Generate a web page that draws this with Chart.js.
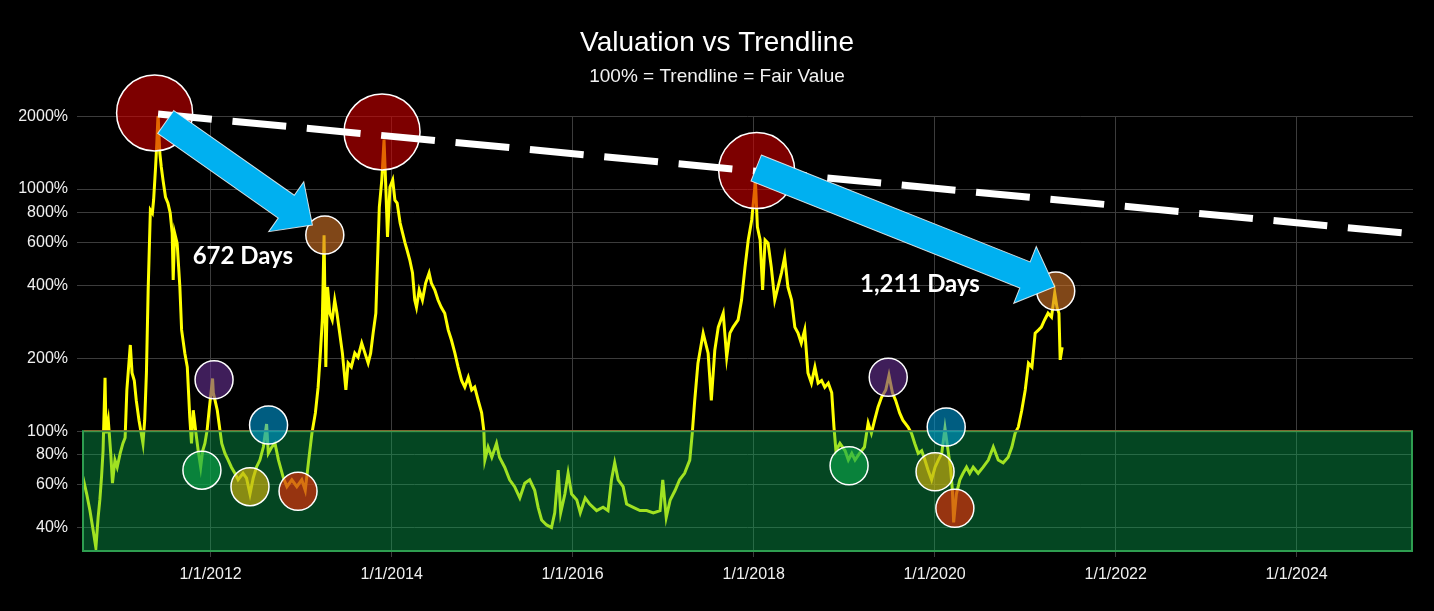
<!DOCTYPE html>
<html>
<head>
<meta charset="utf-8">
<script src="https://cdn.jsdelivr.net/npm/chart.js@4.4.1/dist/chart.umd.min.js"></script>
<style>
  html, body { margin: 0; padding: 0; background: #000; }
</style>
</head>
<body>
<canvas id="valuation-chart" width="1434" height="611"></canvas>
<script>
// valuation vs trendline (percent of fair value)
const valuationDates = [
  '2010-08-03','2010-08-19','2010-09-01','2010-09-14','2010-09-25','2010-10-04','2010-10-11','2010-10-18','2010-10-24','2010-11-01',
  '2010-11-05','2010-11-14','2010-11-24','2010-12-01','2010-12-11','2010-12-20','2011-01-01','2011-01-12','2011-01-21','2011-01-28',
  '2011-02-11','2011-02-18','2011-02-27','2011-03-07','2011-03-18','2011-03-27','2011-04-03','2011-04-10','2011-04-17','2011-04-24',
  '2011-05-03','2011-05-11','2011-05-16','2011-05-24','2011-05-29','2011-06-03','2011-06-10','2011-06-16','2011-06-23','2011-07-03',
  '2011-07-13','2011-07-22','2011-07-30','2011-08-03','2011-08-09','2011-08-19','2011-08-30','2011-09-06','2011-09-19','2011-09-29',
  '2011-10-09','2011-10-16','2011-10-23','2011-11-03','2011-11-12','2011-11-22','2011-11-30','2011-12-09','2011-12-18','2011-12-26',
  '2012-01-09','2012-01-12','2012-01-19','2012-01-28','2012-02-06','2012-02-15','2012-02-28','2012-03-12','2012-03-25','2012-04-08',
  '2012-04-21','2012-05-11','2012-05-25','2012-06-08','2012-06-21','2012-07-04','2012-07-18','2012-08-01','2012-08-14','2012-08-21',
  '2012-09-04','2012-09-17','2012-10-01','2012-10-21','2012-11-04','2012-11-24','2012-12-14','2013-01-03','2013-01-17','2013-01-31',
  '2013-02-13','2013-02-27','2013-03-10','2013-03-19','2013-03-27','2013-04-03','2013-04-10','2013-04-17','2013-04-26','2013-05-06',
  '2013-05-16','2013-05-25','2013-06-05','2013-06-16','2013-06-30','2013-07-09','2013-07-22','2013-08-05','2013-08-18','2013-09-02',
  '2013-09-15','2013-09-28','2013-10-08','2013-10-18','2013-10-29','2013-11-04','2013-11-12','2013-11-22','2013-12-01','2013-12-09',
  '2013-12-15','2013-12-25','2014-01-05','2014-01-14','2014-01-23','2014-02-04','2014-02-14','2014-02-24','2014-03-04','2014-03-15',
  '2014-03-26','2014-04-04','2014-04-11','2014-04-22','2014-05-05','2014-05-18','2014-06-01','2014-06-10','2014-06-24','2014-07-07',
  '2014-07-20','2014-08-03','2014-08-17','2014-08-30','2014-09-13','2014-09-26','2014-10-10','2014-10-23','2014-11-06','2014-11-20',
  '2014-12-02','2014-12-16','2014-12-30','2015-01-08','2015-01-12','2015-01-25','2015-02-09','2015-02-28','2015-03-12','2015-04-02',
  '2015-04-22','2015-05-12','2015-06-02','2015-06-22','2015-07-12','2015-08-01','2015-08-15','2015-08-29','2015-09-18','2015-10-08',
  '2015-10-21','2015-11-04','2015-11-14','2015-12-01','2015-12-14','2015-12-28','2016-01-18','2016-02-01','2016-02-21','2016-03-10',
  '2016-04-07','2016-05-03','2016-05-23','2016-06-06','2016-06-19','2016-07-03','2016-07-23','2016-08-06','2016-09-02','2016-09-29',
  '2016-10-26','2016-11-22','2016-12-19','2016-12-30','2017-01-13','2017-01-29','2017-02-18','2017-03-08','2017-03-28','2017-04-18',
  '2017-04-28','2017-05-08','2017-05-21','2017-06-11','2017-07-01','2017-07-14','2017-07-28','2017-08-11','2017-08-31','2017-09-14',
  '2017-09-27','2017-10-10','2017-10-30','2017-11-13','2017-11-27','2017-12-10','2017-12-24','2018-01-08','2018-01-16','2018-01-27',
  '2018-02-06','2018-02-16','2018-02-28','2018-03-13','2018-03-27','2018-04-09','2018-04-23','2018-05-06','2018-05-19','2018-06-03',
  '2018-06-16','2018-06-29','2018-07-12','2018-07-26','2018-08-08','2018-08-22','2018-09-05','2018-09-18','2018-10-02','2018-10-15',
  '2018-10-29','2018-11-12','2018-11-21','2018-11-29','2018-12-15','2019-01-05','2019-01-18','2019-02-01','2019-02-14','2019-03-04',
  '2019-03-24','2019-04-08','2019-04-21','2019-05-04','2019-05-18','2019-06-01','2019-06-18','2019-07-01','2019-07-15','2019-07-28',
  '2019-08-13','2019-08-26','2019-09-16','2019-09-30','2019-10-13','2019-10-27','2019-11-10','2019-11-23','2019-12-06','2019-12-20',
  '2020-01-03','2020-01-16','2020-01-30','2020-02-12','2020-02-26','2020-03-05','2020-03-13','2020-03-18','2020-03-29','2020-04-12',
  '2020-04-25','2020-05-09','2020-05-22','2020-06-05','2020-06-25','2020-07-15','2020-08-05','2020-08-25','2020-09-14','2020-10-04',
  '2020-10-24','2020-11-08','2020-11-21','2020-12-04','2020-12-18','2021-01-01','2021-01-14','2021-01-28','2021-02-10','2021-02-24',
  '2021-03-07','2021-03-20','2021-04-03','2021-04-17','2021-04-30','2021-05-09','2021-05-17','2021-05-22','2021-05-30'
];
const valuationPct = [
  65, 55, 47, 39, 33, 44, 52, 65, 83, 166,
  98, 111, 81, 61, 76, 71, 81, 89, 94, 148,
  227, 174, 162, 134, 111, 98, 89, 111, 174, 383,
  819, 796, 901, 1233, 1549, 2050, 1409, 1233, 1089, 927,
  875, 796, 658, 421, 658, 598, 394, 262, 210, 184,
  114, 89, 122, 98, 83, 71, 83, 89, 101, 122,
  165, 144, 134, 122, 104, 89, 81, 76, 71, 67,
  63, 67, 64, 55, 64, 71, 76, 86, 107, 81,
  86, 89, 76, 64, 59, 63, 59, 63, 57, 76,
  98, 119, 152, 210, 288, 645, 184, 394, 307, 288,
  348, 307, 254, 210, 148, 191, 184, 210, 202, 231,
  210, 191, 210, 254, 307, 476, 843, 1089, 1600, 963,
  634, 1019, 1089, 899, 875, 724, 658, 598, 560, 509,
  450, 348, 325, 383, 348, 409, 450, 409, 383, 348,
  325, 307, 262, 238, 210, 184, 162, 152, 167, 148,
  152, 134, 119, 100, 76, 86, 78, 89, 78, 71,
  63, 59, 53, 61, 63, 57, 48.5, 43, 41, 40,
  46, 69, 46, 55, 67, 55, 52, 46, 53, 50,
  47, 48.5, 47, 63, 74, 63, 59, 50, 48.5, 47,
  47, 46, 47, 63, 44, 52, 57, 63, 67, 76,
  98, 134, 191, 254, 210, 134, 216, 269, 307, 202,
  254, 269, 288, 348, 476, 616, 745, 1080, 697, 616,
  383, 616, 598, 476, 348, 394, 450, 524, 394, 348,
  269, 254, 231, 262, 174, 158, 184, 158, 162, 152,
  158, 144, 104, 83, 89, 83, 76, 81, 76, 81,
  86, 108, 98, 111, 126, 138, 148, 170, 144, 134,
  119, 111, 104, 98, 89, 81, 83, 76, 69, 63,
  71, 76, 81, 103, 81, 71, 57, 42, 55, 63,
  67, 71, 67, 71, 67, 71, 76, 86, 76, 74,
  78, 86, 98, 104, 122, 148, 191, 184, 254, 262,
  269, 288, 307, 296, 372, 325, 307, 197, 222
];

// fair value trendline (log-linear decay)
const trendDates = ['2011-06-03', '2025-04-15'];
const trendPct = [2040, 653];
const fairValue = 100;

// highlighted circles
const topDates = ['2011-05-20', '2013-11-23', '2018-01-13'];
const topPct = [2061, 1720, 1192];
const retestDates = ['2013-04-06', '2021-05-04'];
const retestPct = [646, 379];
const purpleDates = ['2012-01-15', '2019-06-28'];
const purplePct = [163, 167];
const tealDates = ['2012-08-22', '2020-02-17'];
const tealPct = [106, 104];
const greenDates = ['2011-11-27', '2019-01-21'];
const greenPct = [69, 72];
const oliveDates = ['2012-06-08', '2020-01-03'];
const olivePct = [59, 68];
const lowDates = ['2012-12-19', '2020-03-23'];
const lowPct = [56.5, 48];

// arrows and "days" labels
const arrowStartDates = ['2011-07-04', '2018-01-11'];
const arrowStartPct = [1892, 1221];
const arrowEndDates = ['2013-02-15', '2021-04-30'];
const arrowEndPct = [710, 395];
const dayLabels = ['672 Days', '1,211 Days'];
const dayLabelDates = ['2012-05-10', '2019-11-03'];
const dayLabelPct = [529, 405];

// axes
const xMin = '2010-07-31';
const xMax = '2025-04-15';
const xTickYears = [2012, 2014, 2016, 2018, 2020, 2022, 2024];
const yMin = 31.7;
const yMax = 2003;
const yTicks = [40, 60, 80, 100, 200, 400, 600, 800, 1000, 2000];

const day = s => Date.parse(s);
const points = (dates, vals) => dates.map((d, i) => ({ x: day(d), y: vals[i] }));

function circles(dates, vals, fill, radius) {
    return {
        type: 'bubble',
        data: points(dates, vals),
        backgroundColor: fill,
        borderColor: '#ffffff',
        borderWidth: 1.5,
        radius: radius,
        clip: false,
        order: 2
    };
}

function drawArrow(ctx, x0, y0, x1, y1) {
    const shaft = 28, headW = 61, headL = 32;
    const len = Math.hypot(x1 - x0, y1 - y0);
    ctx.save();
    ctx.translate(x0, y0);
    ctx.rotate(Math.atan2(y1 - y0, x1 - x0));
    ctx.beginPath();
    ctx.moveTo(0, -shaft / 2);
    ctx.lineTo(len - headL, -shaft / 2);
    ctx.lineTo(len - headL, -headW / 2);
    ctx.lineTo(len, 0);
    ctx.lineTo(len - headL, headW / 2);
    ctx.lineTo(len - headL, shaft / 2);
    ctx.lineTo(0, shaft / 2);
    ctx.closePath();
    ctx.fillStyle = '#00b0f0';
    ctx.fill();
    ctx.lineWidth = 1;
    ctx.strokeStyle = 'rgba(255,255,255,0.8)';
    ctx.stroke();
    ctx.restore();
}

const overlays = {
    id: 'overlays',
    // green "below fair value" zone goes over the valuation line only
    afterDatasetDraw(chart, args) {
        if (args.index !== 0) return;
        const { ctx, chartArea: a } = chart;
        const top = chart.scales.y.getPixelForValue(fairValue);
        ctx.save();
        ctx.fillStyle = 'rgba(10,180,87,0.39)';
        ctx.fillRect(a.left, top, a.right - a.left, a.bottom - top);
        ctx.lineWidth = 2;
        ctx.strokeStyle = '#2e9e50';
        ctx.strokeRect(a.left + 1, top, a.right - a.left - 2, a.bottom - top - 1);
        ctx.beginPath();
        ctx.moveTo(a.left + 2, top - 0.5);
        ctx.lineTo(a.right - 2, top - 0.5);
        ctx.strokeStyle = 'rgba(170,90,40,0.8)';
        ctx.lineWidth = 1;
        ctx.stroke();
        ctx.restore();
    },
    afterDatasetsDraw(chart) {
        const { ctx, scales: { x, y } } = chart;
        arrowStartDates.forEach((d, i) => {
            drawArrow(ctx,
                x.getPixelForValue(day(d)), y.getPixelForValue(arrowStartPct[i]),
                x.getPixelForValue(day(arrowEndDates[i])), y.getPixelForValue(arrowEndPct[i]));
        });
        ctx.save();
        ctx.font = 'bold 24px Lato, "Open Sans", sans-serif';
        ctx.fillStyle = '#ffffff';
        ctx.textAlign = 'center';
        ctx.textBaseline = 'middle';
        dayLabels.forEach((t, i) => {
            ctx.fillText(t, x.getPixelForValue(day(dayLabelDates[i])), y.getPixelForValue(dayLabelPct[i]));
        });
        ctx.restore();
    }
};

Chart.defaults.font.family = "'Liberation Sans', Arial, sans-serif";
Chart.defaults.color = '#f0f0f0';

new Chart('valuation-chart', {
    type: 'line',
    data: {
        datasets: [
            {
                label: 'Valuation',
                data: points(valuationDates, valuationPct),
                borderColor: '#ffff00',
                borderWidth: 3,
                pointRadius: 0,
                tension: 0,
                order: 3
            },
            {
                label: 'Trendline',
                data: points(trendDates, trendPct),
                borderColor: '#ffffff',
                borderWidth: 7,
                borderDash: [54, 20.7],
                borderCapStyle: 'butt',
                pointRadius: 0,
                clip: false,
                order: 1
            },
            circles(topDates, topPct, 'rgba(208,0,0,0.6)', 38),
            circles(retestDates, retestPct, 'rgba(213,118,40,0.6)', 19),
            circles(purpleDates, purplePct, 'rgba(105,50,150,0.6)', 19),
            circles(tealDates, tealPct, 'rgba(0,155,215,0.6)', 19),
            circles(greenDates, greenPct, 'rgba(13,170,77,0.6)', 19),
            circles(oliveDates, olivePct, 'rgba(225,185,10,0.6)', 19),
            circles(lowDates, lowPct, 'rgba(250,40,5,0.6)', 19)
        ]
    },
    options: {
        responsive: false,
        animation: false,
        events: [],
        layout: {
            autoPadding: false,
            padding: 0
        },
        plugins: {
            legend: { display: false },
            tooltip: { enabled: false },
            title: {
                display: true,
                text: 'Valuation vs Trendline',
                color: '#ffffff',
                font: { size: 28, weight: 'normal' },
                padding: { top: 26, bottom: 0 }
            },
            subtitle: {
                display: true,
                text: '100% = Trendline = Fair Value',
                color: '#f2f2f2',
                font: { size: 19 },
                padding: { top: 6, bottom: 27.6 }
            }
        },
        scales: {
            x: {
                type: 'linear',
                min: day(xMin),
                max: day(xMax),
                afterBuildTicks: s => { s.ticks = xTickYears.map(yr => ({ value: Date.UTC(yr, 0, 1) })); },
                afterFit: s => { s.height = 59; },
                ticks: {
                    callback: v => '1/1/' + new Date(v).getUTCFullYear(),
                    font: { size: 16 },
                    color: '#f0f0f0',
                    maxRotation: 0,
                    autoSkip: false,
                    padding: 8
                },
                grid: { color: '#3c3c3c', tickLength: 5 },
                border: { display: false }
            },
            y: {
                type: 'logarithmic',
                min: yMin,
                max: yMax,
                afterBuildTicks: s => { s.ticks = yTicks.map(v => ({ value: v })); },
                afterFit: s => { s.width = 82; },
                ticks: {
                    callback: v => v + '%',
                    font: { size: 16 },
                    color: '#f0f0f0',
                    padding: 9
                },
                grid: { color: '#3c3c3c', tickLength: 5 },
                border: { display: false }
            },
            // empty right margin so the titles stay centred on the page
            margin: {
                type: 'linear',
                position: 'right',
                afterFit: s => { s.width = 21; },
                ticks: { display: false },
                grid: { display: false },
                border: { display: false }
            }
        }
    },
    plugins: [overlays]
});
</script>
</body>
</html>
